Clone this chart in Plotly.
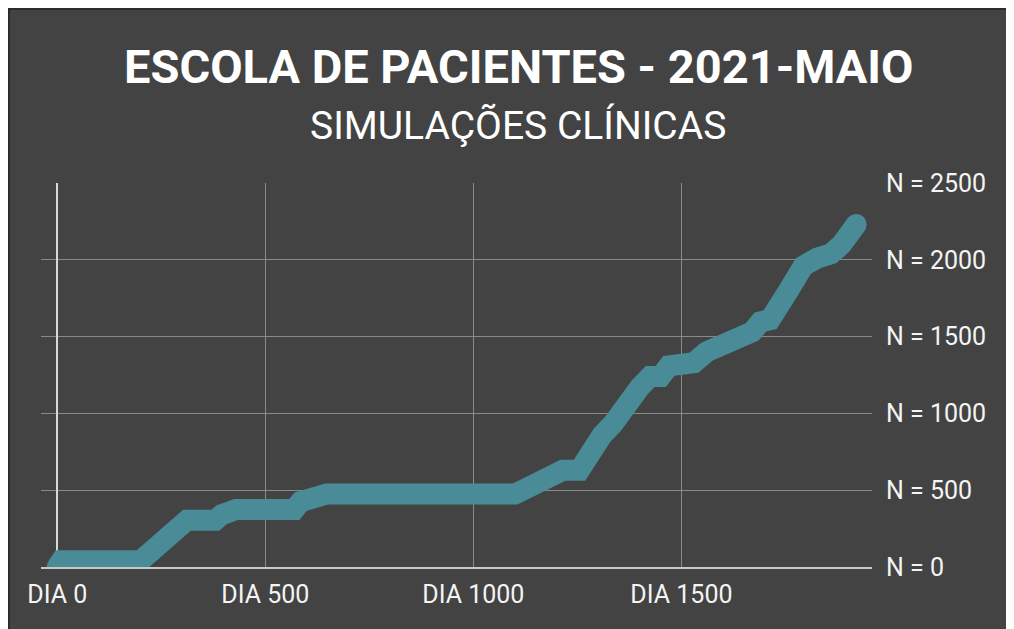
import plotly.graph_objects as go

# ---- data ----
days = [0, 10, 200, 210, 225, 250, 280, 300, 312, 380, 395, 430, 570, 585, 605, 630, 648,
        1100, 1120, 1145, 1165, 1200, 1215, 1255, 1270, 1285, 1310, 1335, 1353, 1370, 1400,
        1425, 1450, 1470, 1530, 1560, 1590, 1630, 1670, 1690, 1713, 1755, 1793, 1826, 1860,
        1885, 1920]
counts = [0, 40, 40, 60, 130, 165, 215, 280, 305, 305, 340, 375, 375, 425, 440, 445, 475,
          475, 500, 550, 590, 610, 630, 630, 700, 760, 860, 930, 1000, 1090, 1170,
          1240, 1240, 1310, 1330, 1400, 1440, 1480, 1530, 1595, 1610, 1790, 1960, 2010, 2040,
          2100, 2230]

x_tickvals = [0, 500, 1000, 1500]
x_ticktext = ["DIA 0", "DIA 500", "DIA 1000", "DIA 1500"]
y_tickvals = [0, 500, 1000, 1500, 2000, 2500]
y_ticktext = ["N = 0", "N = 500", "N = 1000", "N = 1500", "N = 2000", "N = 2500"]

title_text = "ESCOLA DE PACIENTES - 2021-MAIO"
subtitle_text = "SIMULAÇÕES CLÍNICAS"

# ---- style ----
BG = "#434343"
LINE = "#498b97"
GRID = "#8a8a8a"
TXT = "#f4f4f4"
W, H = 1006, 621
ML, MR, MT, MB = 33, 142, 175, 62
PW, PH = W - ML - MR, H - MT - MB

fig = go.Figure()
fig.add_trace(go.Scatter(
    x=days, y=counts, mode="lines",
    line=dict(color=LINE, width=21, shape="linear"),
    hoverinfo="skip", showlegend=False,
))
# round end caps
fig.add_trace(go.Scatter(
    x=[days[0], days[-1]], y=[counts[0], counts[-1]], mode="markers",
    marker=dict(color=LINE, size=21, line=dict(width=0)),
    hoverinfo="skip", showlegend=False,
))

def py(fig_y):
    return (H - MB - fig_y) / PH

def px(fig_x):
    return (fig_x - ML) / PW

fig.update_layout(
    width=W, height=H,
    margin=dict(l=ML, r=MR, t=MT, b=MB, pad=0),
    paper_bgcolor=BG, plot_bgcolor=BG,
    font=dict(family="Roboto, Arial, sans-serif", color=TXT),
    xaxis=dict(
        range=[-39, 1958], tickmode="array", tickvals=x_tickvals, ticktext=x_ticktext,
        showgrid=True, gridcolor=GRID, gridwidth=1,
        zeroline=True, zerolinecolor="#d8d8d8", zerolinewidth=2,
        showline=True, linecolor="#c8c8c8", linewidth=2,
        ticks="", tickfont=dict(size=25, color=TXT), ticklabelstandoff=4,
        fixedrange=True,
    ),
    yaxis=dict(
        range=[0, 2500], side="right", tickmode="array", tickvals=y_tickvals, ticktext=y_ticktext,
        showgrid=True, gridcolor=GRID, gridwidth=1, zeroline=False, showline=False,
        ticks="", tickfont=dict(size=25, color=TXT), ticklabelstandoff=13,
        fixedrange=True,
    ),
    annotations=[
        dict(text=title_text, xref="paper", yref="paper", x=px(510), y=py(58),
             xanchor="center", yanchor="middle", showarrow=False,
             font=dict(size=47, color="#ffffff", family="Roboto", weight=700)),
        dict(text=subtitle_text, xref="paper", yref="paper", x=px(510), y=py(118),
             xanchor="center", yanchor="middle", showarrow=False,
             font=dict(size=39, color="#ffffff", family="Roboto")),
    ],
    shapes=[
        dict(type="line", xref="paper", yref="paper", x0=px(0), x1=px(W), y0=py(0), y1=py(0),
             line=dict(color="#2c2c2c", width=4), layer="above"),
        dict(type="line", xref="paper", yref="paper", x0=px(0), x1=px(0), y0=py(0), y1=py(H),
             line=dict(color="#2c2c2c", width=4), layer="above"),
    ],
)

fig.write_html("out.html", config={"displayModeBar": False},
               post_script="document.body.style.overflow='hidden';")
